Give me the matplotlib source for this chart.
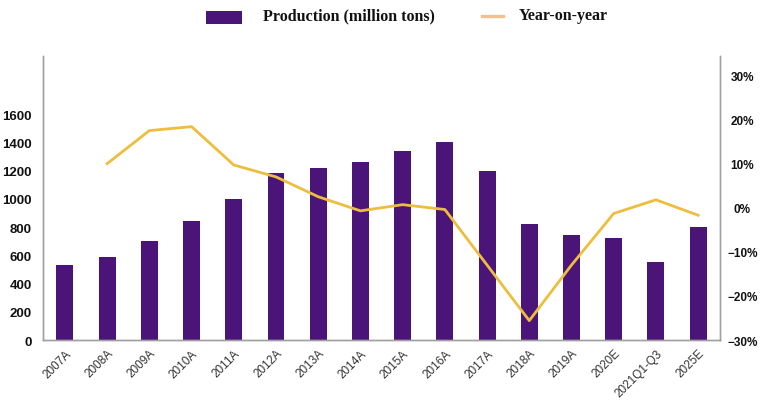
import numpy as np
import matplotlib
matplotlib.use('Agg')
import matplotlib.pyplot as plt
from matplotlib.patches import Rectangle
from matplotlib.lines import Line2D

# data
years = ['2007A', '2008A', '2009A', '2010A', '2011A', '2012A', '2013A', '2014A',
         '2015A', '2016A', '2017A', '2018A', '2019A', '2020E', '2021Q1-Q3', '2025E']
production = [530, 585, 700, 840, 1000, 1180, 1220, 1260,
              1340, 1400, 1200, 820, 740, 720, 555, 800]
yoy = [np.nan, 10.0, 17.5, 18.4, 9.7, 7.0, 2.5, -0.7,
       0.7, -0.4, -13.0, -25.6, -13.0, -1.3, 1.8, -1.7]
left_ticks = [0, 200, 400, 600, 800, 1000, 1200, 1400, 1600]
right_ticks = [-30, -20, -10, 0, 10, 20, 30]
legend_labels = ['Production (million tons)', 'Year-on-year']

bar_color = '#4A1478'
line_color = '#EDBE3E'
legend_line_color = '#F6C08E'
spine_color = '#A0A0A0'

fig = plt.figure(figsize=(7.62, 4.02), dpi=100)
ax = fig.add_axes([0.0564, 0.1517, 0.8886, 0.7063])
ax2 = ax.twinx()

x = np.arange(len(years))
ax.bar(x, production, width=0.4, color=bar_color, zorder=2)
ax2.plot(x, yoy, color=line_color, linewidth=2.0, zorder=3)

ax.set_xlim(-0.52, len(years) - 1 + 0.52)
ax.set_ylim(0, 2010)
ax2.set_ylim(-28.7, 34.4)

ax.set_yticks(left_ticks)
ax.set_yticklabels([str(v) for v in left_ticks], fontsize=9.5, fontweight='bold',
                   family='Liberation Sans', color='#111111')
ax2.set_yticks(right_ticks)
ax2.set_yticklabels([('\u2212' if v < 0 else '') + f'{abs(v)}%' for v in right_ticks],
                    fontsize=8.5, fontweight='bold', family='Liberation Sans',
                    color='#111111', ha='center')
ax.set_xticks(x)
ax.set_xticklabels(years, rotation=45, ha='right', rotation_mode='anchor',
                   fontsize=8.5, family='Liberation Sans', color='#333333')

ax.tick_params(axis='both', length=0)
ax.tick_params(axis='y', pad=8)
ax.tick_params(axis='x', pad=5)
ax2.tick_params(axis='y', length=0, pad=16)

for a in (ax, ax2):
    a.spines['top'].set_visible(False)
    for s in ('left', 'right', 'bottom'):
        a.spines[s].set_color(spine_color)
        a.spines[s].set_linewidth(1.0)

# legend drawn by hand at the top
fig.add_artist(Rectangle((0.2703, 0.9378), 0.0472, 0.0332, transform=fig.transFigure,
                         facecolor=bar_color, edgecolor='none'))
fig.text(0.3451, 0.959, legend_labels[0], ha='left', va='center',
         family='Liberation Serif', fontweight='bold', fontsize=11.5, color='#111111')
fig.add_artist(Line2D([0.6325, 0.6601], [0.9585, 0.9585], transform=fig.transFigure,
                      color=legend_line_color, linewidth=2.4))
fig.text(0.681, 0.959, legend_labels[1], ha='left', va='center',
         family='Liberation Serif', fontweight='bold', fontsize=11.5, color='#111111')

fig.savefig('out.png', dpi=100)
